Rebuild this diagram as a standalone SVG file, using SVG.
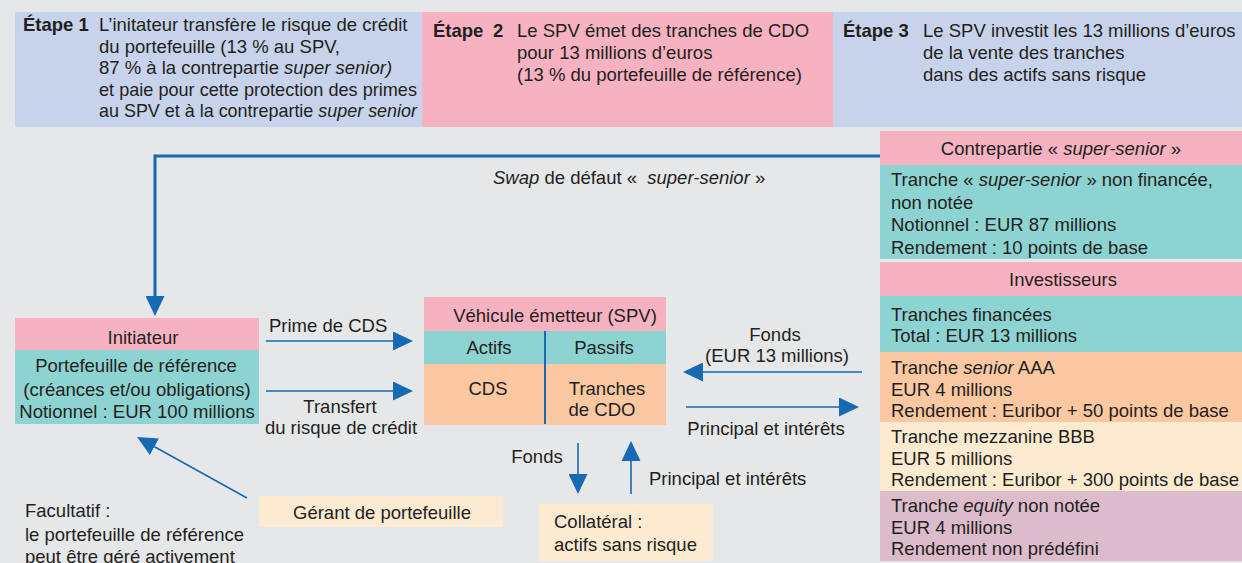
<svg xmlns="http://www.w3.org/2000/svg" width="1242" height="563" viewBox="0 0 1242 563">
<style>
text{font-family:"Liberation Sans",Arial,Helvetica,sans-serif;font-size:18.5px;fill:#231f20}
.b{font-weight:bold}
.i{font-style:italic}
.m{text-anchor:middle}
.pink{fill:#f7b2c1}
.blue{fill:#c6d3ea}
.teal{fill:#8dd3d2}
.orange{fill:#fcc8a2}
.beige{fill:#fdebd1}
.mauve{fill:#dcbccb}
.ln{fill:none;stroke:#1769b3;stroke-width:1.6}
.thick{fill:none;stroke:#1769b3;stroke-width:3}
</style>
<defs>
<marker id="ah" markerUnits="userSpaceOnUse" markerWidth="20" markerHeight="19" refX="0" refY="9.5" orient="auto" viewBox="0 0 20 19">
<path d="M0,0 L20,9.5 L0,19 z" fill="#1769b3"/>
</marker>
</defs>
<rect width="1242" height="563" fill="#e6e7e9"/>

<g id="etape1">
<rect class="blue" x="15" y="12" width="407" height="115"/>
<text class="b" x="23" y="31">Étape 1</text>
<text x="99" y="31">L’initateur transfère le risque de crédit</text>
<text x="99" y="52.5">du portefeuille (13 % au SPV,</text>
<text x="99" y="74">87 % à la contrepartie <tspan class="i">super senior)</tspan></text>
<text x="99" y="95.5" textLength="318" lengthAdjust="spacingAndGlyphs">et paie pour cette protection des primes</text>
<text x="99" y="117" textLength="318" lengthAdjust="spacingAndGlyphs">au SPV et à la contrepartie <tspan class="i">super senior</tspan></text>
</g>

<g id="etape2">
<rect class="pink" x="422" y="12" width="411" height="115"/>
<text class="b" x="433" y="37">Étape</text>
<text class="b" x="493" y="37">2</text>
<text x="517" y="37">Le SPV émet des tranches de CDO</text>
<text x="517" y="59">pour 13 millions d’euros</text>
<text x="517" y="81">(13 % du portefeuille de référence)</text>
</g>

<g id="etape3">
<rect class="blue" x="833" y="12" width="409" height="115"/>
<text class="b" x="843" y="37">Étape 3</text>
<text x="923" y="37">Le SPV investit les 13 millions d’euros</text>
<text x="923" y="59">de la vente des tranches</text>
<text x="923" y="81">dans des actifs sans risque</text>
</g>

<g id="contrepartie">
<rect class="pink" x="880" y="131" width="362" height="34"/>
<text class="m" x="1061" y="154.5">Contrepartie « <tspan class="i">super-senior</tspan> »</text>
<rect class="teal" x="880" y="165" width="362" height="94"/>
<text x="891" y="186">Tranche « <tspan class="i">super-senior</tspan> » non financée,</text>
<text x="891" y="208.5">non notée</text>
<text x="891" y="231">Notionnel : EUR 87 millions</text>
<text x="891" y="253.5">Rendement : 10 points de base</text>
</g>

<g id="investisseurs">
<rect class="pink" x="880" y="262" width="362" height="34"/>
<text class="m" x="1063" y="285.5">Investisseurs</text>
<rect class="teal" x="880" y="296" width="362" height="56"/>
<text x="891" y="320.5">Tranches financées</text>
<text x="891" y="341.5">Total : EUR 13 millions</text>
<rect class="orange" x="880" y="352" width="362" height="70"/>
<text x="891" y="374">Tranche <tspan class="i">senior</tspan> AAA</text>
<text x="891" y="395.5">EUR 4 millions</text>
<text x="891" y="417">Rendement : Euribor + 50 points de base</text>
<rect class="beige" x="880" y="422" width="362" height="69"/>
<text x="891" y="443">Tranche mezzanine BBB</text>
<text x="891" y="464.5">EUR 5 millions</text>
<text x="891" y="486">Rendement : Euribor + 300 points de base</text>
<rect class="mauve" x="880" y="491" width="362" height="70"/>
<text x="891" y="512">Tranche <tspan class="i">equity</tspan> non notée</text>
<text x="891" y="533.5">EUR 4 millions</text>
<text x="891" y="555">Rendement non prédéfini</text>
</g>

<g id="initiateur">
<rect class="pink" x="15" y="318" width="244" height="32"/>
<text class="m" x="143" y="343.5">Initiateur</text>
<rect class="teal" x="15" y="350" width="244" height="74"/>
<text class="m" x="136" y="371.5">Portefeuille de référence</text>
<text class="m" x="137" y="395.5">(créances et/ou obligations)</text>
<text class="m" x="137" y="417.5">Notionnel : EUR 100 millions</text>
</g>

<g id="spv">
<rect class="pink" x="424" y="297" width="242" height="34"/>
<text class="m" x="555" y="321.5">Véhicule émetteur (SPV)</text>
<rect class="teal" x="424" y="331" width="242" height="33"/>
<rect class="orange" x="424" y="364" width="242" height="61"/>
<line x1="545" y1="331" x2="545" y2="424" stroke="#1769b3" stroke-width="2"/>
<text class="m" x="489" y="353.5">Actifs</text>
<text class="m" x="604" y="353.5">Passifs</text>
<text class="m" x="488" y="394.5">CDS</text>
<text class="m" x="607" y="394.5">Tranches</text>
<text class="m" x="602" y="415.5">de CDO</text>
</g>

<g id="collateral">
<rect class="beige" x="539" y="504" width="174" height="57"/>
<text x="554" y="527.5">Collatéral :</text>
<text x="554" y="550.5">actifs sans risque</text>
</g>

<g id="gerant">
<rect class="beige" x="259" y="496" width="244" height="31"/>
<text class="m" x="382" y="518.5">Gérant de portefeuille</text>
</g>

<g id="facultatif">
<text x="25" y="517">Facultatif :</text>
<text x="25" y="540.5">le portefeuille de référence</text>
<text x="25" y="562.5">peut être géré activement</text>
</g>

<g id="connectors">
<path class="thick" d="M880,156 H155 V296" marker-end="url(#ah)"/>
<path class="ln" d="M266,341 H393" marker-end="url(#ah)"/>
<path class="ln" d="M266,391 H393" marker-end="url(#ah)"/>
<path class="ln" d="M862,372 H703" marker-end="url(#ah)"/>
<path class="ln" d="M686,407 H839" marker-end="url(#ah)"/>
<path class="ln" d="M578,443 V474" marker-end="url(#ah)"/>
<path class="ln" d="M631,494 V461" marker-end="url(#ah)"/>
<path class="ln" d="M247,498 L154.5,446.7" marker-end="url(#ah)"/>
<text x="493" y="184"><tspan class="i">Swap</tspan> de défaut «&#160; <tspan class="i">super-senior</tspan> »</text>
<text x="269" y="331.5">Prime de CDS</text>
<text class="m" x="340" y="412.5">Transfert</text>
<text class="m" x="341" y="433.5">du risque de crédit</text>
<text class="m" x="775" y="340.5">Fonds</text>
<text class="m" x="777" y="361.5">(EUR 13 millions)</text>
<text class="m" x="766" y="434.5">Principal et intérêts</text>
<text class="m" x="537" y="462.5">Fonds</text>
<text x="649" y="484.5">Principal et intérêts</text>
</g>
</svg>
